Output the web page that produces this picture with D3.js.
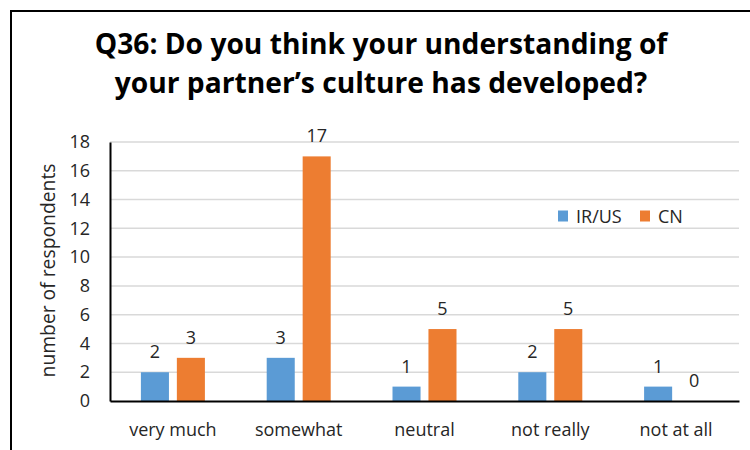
<!DOCTYPE html>
<html>
<head>
<meta charset="utf-8">
<script src="https://cdn.jsdelivr.net/npm/d3@7/dist/d3.min.js"></script>
<style>
  html, body { margin: 0; padding: 0; background: #fff; }
  svg { display: block; }
</style>
</head>
<body>
<svg id="chart" width="750" height="450"></svg>
<script>
// Survey answers to Q36, respondents per answer and group
const categories = ["very much", "somewhat", "neutral", "not really", "not at all"];
const seriesNames = ["IR/US", "CN"];
const irusValues = [2, 3, 1, 2, 1];
const cnValues = [3, 17, 5, 5, 0];
const yTicks = [0, 2, 4, 6, 8, 10, 12, 14, 16, 18];
const titleLines = ["Q36: Do you think your understanding of", "your partner\u2019s culture has developed?"];
const yAxisTitle = "number of respondents";

const colors = { "IR/US": "#5b9bd5", "CN": "#ed7d31" };
const font = "'Open Sans', 'Noto Sans', sans-serif";
const textColor = "#262626";
const labelSize = 18;

const svg = d3.select("#chart");

// Outer frame (only left and top edges fall inside the view)
svg.append("rect")
  .attr("x", 11).attr("y", 11)
  .attr("width", 800).attr("height", 500)
  .attr("fill", "none").attr("stroke", "#000").attr("stroke-width", 2);

// Plot area
const plot = { left: 110, right: 739, top: 142, bottom: 401 };

const x0 = d3.scaleBand()
  .domain(categories)
  .range([plot.left, plot.right])
  .paddingInner(0).paddingOuter(0);

// Pair of bars centred in each category band
const pairWidth = 64;
const x1 = d3.scaleBand()
  .domain(seriesNames)
  .range([(x0.bandwidth() - pairWidth) / 2, (x0.bandwidth() + pairWidth) / 2])
  .paddingInner(0.22)
  .paddingOuter(0);

const y = d3.scaleLinear()
  .domain([0, 18])
  .range([plot.bottom, plot.top]);

// Gridlines
svg.append("g")
  .selectAll("line")
  .data(yTicks.filter(d => d > 0))
  .join("line")
  .attr("x1", plot.left).attr("x2", plot.right)
  .attr("y1", d => y(d)).attr("y2", d => y(d))
  .attr("stroke", "#d9d9d9").attr("stroke-width", 1.5);

// Bars
const rows = categories.map((c, i) => ({
  category: c,
  values: [
    { series: "IR/US", value: irusValues[i] },
    { series: "CN", value: cnValues[i] }
  ]
}));

const groups = svg.append("g")
  .selectAll("g")
  .data(rows)
  .join("g")
  .attr("transform", d => `translate(${x0(d.category)},0)`);

groups.selectAll("rect")
  .data(d => d.values)
  .join("rect")
  .attr("x", d => x1(d.series))
  .attr("width", x1.bandwidth())
  .attr("y", d => y(d.value))
  .attr("height", d => y(0) - y(d.value))
  .attr("fill", d => colors[d.series]);

// Value labels
groups.selectAll("text")
  .data(d => d.values)
  .join("text")
  .attr("x", d => x1(d.series) + x1.bandwidth() / 2)
  .attr("y", d => y(d.value) - 14)
  .attr("text-anchor", "middle")
  .attr("font-family", font)
  .attr("font-size", labelSize)
  .attr("fill", textColor)
  .text(d => d.value);

// Y axis
const yAxis = d3.axisLeft(y).tickValues(yTicks).tickSize(0).tickPadding(20);
const gy = svg.append("g")
  .attr("transform", `translate(${plot.left},0)`)
  .call(yAxis);
gy.select(".domain").attr("stroke", "#000").attr("stroke-width", 2);
gy.selectAll("text")
  .attr("font-family", font)
  .attr("font-size", labelSize)
  .attr("fill", textColor);

// X axis
const xAxis = d3.axisBottom(x0).tickSize(0).tickPadding(22);
const gx = svg.append("g")
  .attr("transform", `translate(0,${plot.bottom})`)
  .call(xAxis);
gx.select(".domain").attr("stroke", "#000").attr("stroke-width", 2);
gx.selectAll("text")
  .attr("font-family", font)
  .attr("font-size", labelSize)
  .attr("fill", textColor);

// Fit a text element's font size so its width equals the given length
function fitWidth(sel, width) {
  const node = sel.node();
  const base = +sel.attr("font-size");
  const w = node.getComputedTextLength();
  if (w > 0) sel.attr("font-size", base * width / w);
}

// Y axis title
const yTitle = svg.append("text")
  .attr("transform", `translate(55,${(plot.top + plot.bottom) / 2 - 1}) rotate(-90)`)
  .attr("text-anchor", "middle")
  .attr("font-family", font)
  .attr("font-size", 17)
  .attr("fill", textColor)
  .text(yAxisTitle);
fitWidth(yTitle, 214);

// Title
const titleG = svg.append("g");
const t1 = titleG.append("text")
  .attr("x", 381).attr("y", 54)
  .attr("text-anchor", "middle")
  .attr("font-family", font)
  .attr("font-weight", "bold")
  .attr("font-size", 28)
  .attr("fill", "#000")
  .text(titleLines[0]);
fitWidth(t1, 573);
titleG.append("text")
  .attr("x", 381).attr("y", 93)
  .attr("text-anchor", "middle")
  .attr("font-family", font)
  .attr("font-weight", "bold")
  .attr("font-size", t1.attr("font-size"))
  .attr("fill", "#000")
  .text(titleLines[1]);

// Legend
const legend = svg.append("g").attr("transform", "translate(558,216)");
const legendX = { "IR/US": 0, "CN": 82 };
seriesNames.forEach(s => {
  const g = legend.append("g").attr("transform", `translate(${legendX[s]},0)`);
  g.append("rect")
    .attr("x", 0).attr("y", -5.5)
    .attr("width", 10).attr("height", 11)
    .attr("fill", colors[s]);
  g.append("text")
    .attr("x", 18).attr("y", 0)
    .attr("dominant-baseline", "central")
    .attr("font-family", font)
    .attr("font-size", 18)
    .attr("fill", textColor)
    .text(s);
});
</script>
</body>
</html>
